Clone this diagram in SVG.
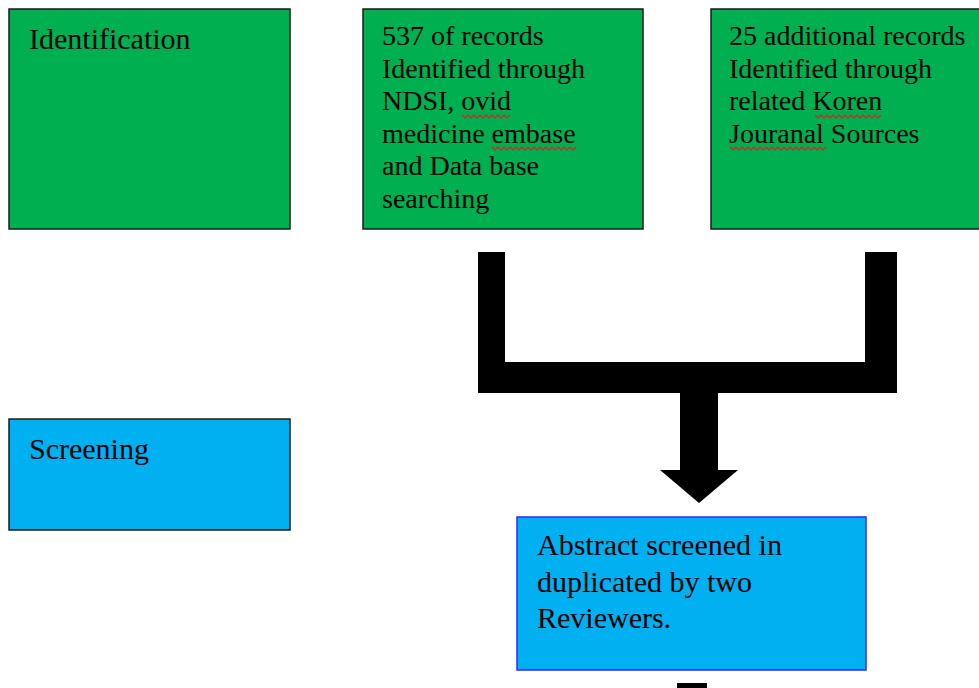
<svg xmlns="http://www.w3.org/2000/svg" width="979" height="688" viewBox="0 0 979 688">
<style>
.g{fill:#00B050;stroke:#1a1a1a;stroke-width:1.5}
.b{fill:#00B0F0;stroke:#1a1a1a;stroke-width:1.5}
.bb{fill:#00B0F0;stroke:#2A2AFF;stroke-width:1.5}
text{font-family:"Liberation Serif","Times New Roman",serif;fill:#000}
.t28{font-size:28px}
.t30{font-size:30px}
.sq{fill:none;stroke:#E02020;stroke-width:1.2}
</style>
<rect width="979" height="688" fill="#fff"/>
<g id="identification">
<rect class="g" x="9" y="9" width="281" height="220"/>
<text class="t30" x="29" y="49">Identification</text>
</g>
<g id="records537">
<rect class="g" x="363" y="9" width="280" height="220"/>
<text class="t28" x="382">
<tspan x="382" y="45">537 of records</tspan>
<tspan x="382" y="77.5">Identified through</tspan>
<tspan x="382" y="110">NDSI, ovid</tspan>
<tspan x="382" y="142.5">medicine embase</tspan>
<tspan x="382" y="175">and Data base</tspan>
<tspan x="382" y="207.5">searching</tspan>
</text>
<path class="sq" d="M462,115 l3,3 l3,-3 l3,3 l3,-3 l3,3 l3,-3 l3,3 l3,-3 l3,3 l3,-3 l3,3 l3,-3 l3,3 l3,-3 l3,3 l3,-3"/>
<path class="sq" d="M492,147 l3,3 l3,-3 l3,3 l3,-3 l3,3 l3,-3 l3,3 l3,-3 l3,3 l3,-3 l3,3 l3,-3 l3,3 l3,-3 l3,3 l3,-3 l3,3 l3,-3 l3,3 l3,-3 l3,3 l3,-3 l3,3 l3,-3 l3,3 l3,-3 l3,3 l3,-3"/>
</g>
<g id="records25">
<rect class="g" x="711" y="9" width="280" height="220"/>
<text class="t28">
<tspan x="729" y="45">25 additional records</tspan>
<tspan x="729" y="77.5">Identified through</tspan>
<tspan x="729" y="110">related Koren</tspan>
<tspan x="729" y="142.5">Jouranal Sources</tspan>
</text>
<path class="sq" d="M815,115 l3,3 l3,-3 l3,3 l3,-3 l3,3 l3,-3 l3,3 l3,-3 l3,3 l3,-3 l3,3 l3,-3 l3,3 l3,-3 l3,3 l3,-3 l3,3 l3,-3 l3,3 l3,-3 l3,3 l3,-3"/>
<path class="sq" d="M730,147 l3,3 l3,-3 l3,3 l3,-3 l3,3 l3,-3 l3,3 l3,-3 l3,3 l3,-3 l3,3 l3,-3 l3,3 l3,-3 l3,3 l3,-3 l3,3 l3,-3 l3,3 l3,-3 l3,3 l3,-3 l3,3 l3,-3 l3,3 l3,-3 l3,3 l3,-3 l3,3 l3,-3 l3,3 l3,-3"/>
</g>
<g id="screening">
<rect class="b" x="9" y="419" width="281" height="111"/>
<text class="t30" x="29" y="459">Screening</text>
</g>
<g id="abstract">
<rect class="bb" x="517" y="517" width="349" height="153"/>
<text class="t30">
<tspan x="537" y="555">Abstract screened in</tspan>
<tspan x="537" y="592">duplicated by two</tspan>
<tspan x="537" y="628">Reviewers.</tspan>
</text>
</g>
<g id="connectors" fill="#000">
<path d="M478,252 H505 V362 H865 V252 H897 V393 H718 V470 H738 L699,503 L660,470 H680 V393 H478 Z"/>
<rect x="677" y="683" width="30" height="6"/>
</g>
</svg>
